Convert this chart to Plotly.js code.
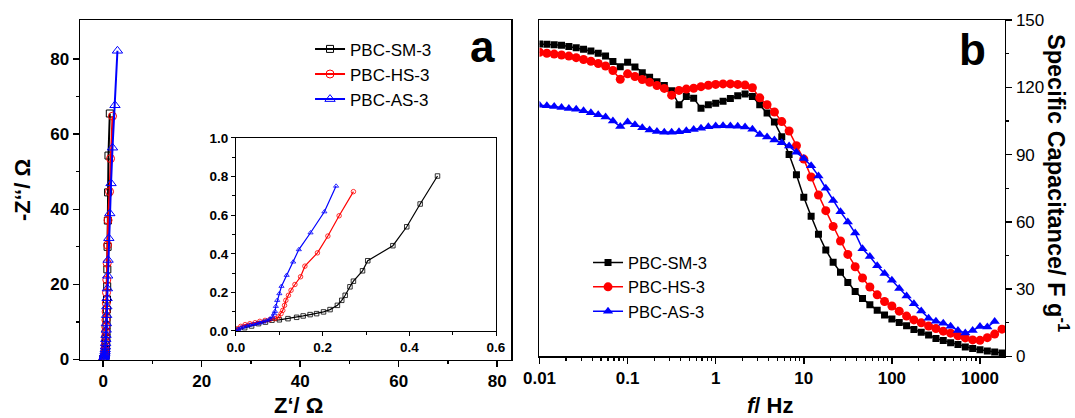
<!DOCTYPE html>
<html>
<head>
<meta charset="utf-8">
<script src="https://cdn.plot.ly/plotly-3.0.1.min.js"></script>
<style>html,body{margin:0;padding:0;background:#fff}#chart{width:1075px;height:418px}</style>
</head>
<body>
<div id="chart"></div>
<script>
// ---------- Panel a: Nyquist (inset, low-Z region) ----------
const insetSmX = [0, 0.004, 0.02, 0.036, 0.052, 0.068, 0.083, 0.1, 0.12, 0.14, 0.155, 0.171, 0.186, 0.202, 0.217, 0.234, 0.244, 0.252, 0.263, 0.271, 0.292, 0.304, 0.362, 0.394, 0.425, 0.465];
const insetSmY = [0, 0.005, 0.017, 0.026, 0.038, 0.046, 0.056, 0.058, 0.064, 0.071, 0.078, 0.085, 0.09, 0.099, 0.111, 0.133, 0.159, 0.185, 0.229, 0.258, 0.312, 0.364, 0.442, 0.54, 0.658, 0.803];
const insetHsX = [0, 0.003, 0.011, 0.021, 0.032, 0.044, 0.055, 0.067, 0.078, 0.09, 0.098, 0.104, 0.108, 0.112, 0.115, 0.121, 0.127, 0.136, 0.149, 0.159, 0.188, 0.212, 0.238, 0.271];
const insetHsY = [0, 0.012, 0.024, 0.033, 0.038, 0.043, 0.05, 0.055, 0.059, 0.064, 0.073, 0.09, 0.107, 0.133, 0.159, 0.185, 0.211, 0.241, 0.281, 0.336, 0.405, 0.492, 0.597, 0.722];
const insetAsX = [0, 0.005, 0.011, 0.017, 0.025, 0.032, 0.04, 0.048, 0.055, 0.063, 0.071, 0.078, 0.084, 0.088, 0.09, 0.092, 0.095, 0.1, 0.105, 0.117, 0.132, 0.145, 0.172, 0.204, 0.231];
const insetAsY = [0, 0.009, 0.016, 0.021, 0.026, 0.031, 0.035, 0.038, 0.042, 0.047, 0.054, 0.062, 0.073, 0.09, 0.102, 0.128, 0.159, 0.194, 0.232, 0.289, 0.358, 0.422, 0.509, 0.618, 0.751];

// ---------- Panel a: Nyquist (upper, high -Z'' part) ----------
const upperSmX = [0.5, 0.53, 0.56, 0.6, 0.62, 0.65, 0.68, 0.7, 0.72, 0.75, 0.78, 0.82, 0.85, 0.9, 0.95, 1.0, 1.08, 1.35];
const upperSmY = [1.2, 1.8, 2.5, 3.4, 4.5, 5.8, 7.3, 9.0, 11.0, 13.3, 16, 19.5, 24, 30, 37, 44.5, 54.3, 65.5];
const upperHsX = [0.3, 0.33, 0.36, 0.39, 0.42, 0.45, 0.48, 0.51, 0.54, 0.57, 0.6, 0.64, 0.68, 0.74, 0.82, 0.9, 1.0, 1.3, 1.5, 1.9];
const upperHsY = [1.0, 1.6, 2.3, 3.0, 3.9, 4.9, 6.1, 7.4, 8.7, 10.5, 12.7, 15, 17.8, 21.2, 25.6, 30.5, 37.1, 44.7, 53.5, 64.8];
const upperAsX = [0.26, 0.3, 0.34, 0.38, 0.42, 0.46, 0.5, 0.54, 0.58, 0.62, 0.66, 0.7, 0.75, 0.8, 0.86, 0.92, 1.0, 1.15, 1.35, 1.6, 1.9, 2.4, 2.9];
const upperAsY = [1.0, 1.3, 1.6, 2.1, 2.7, 3.4, 4.3, 5.4, 6.5, 7.9, 9.6, 11.8, 14.1, 16.3, 18.9, 22.3, 26.5, 32.3, 38.9, 46.9, 56.4, 67.7, 82.2];

// ---------- Panel b: specific capacitance vs frequency ----------
const freqHz = [0.01, 0.01212, 0.01468, 0.01778, 0.02154, 0.0261, 0.03162, 0.03831, 0.04642, 0.05623, 0.06813, 0.08254,
  0.1, 0.1212, 0.1468, 0.1778, 0.2154, 0.261, 0.3162, 0.3831, 0.4642, 0.5623, 0.6813, 0.8254,
  1, 1.212, 1.468, 1.778, 2.154, 2.61, 3.162, 3.831, 4.642, 5.623, 6.813, 8.254,
  10, 12.12, 14.68, 17.78, 21.54, 26.1, 31.62, 38.31, 46.42, 56.23, 68.13, 82.54,
  100, 121.2, 146.8, 177.8, 215.4, 261, 316.2, 383.1, 464.2, 562.3, 681.3, 825.4,
  1000, 1212, 1468, 1778];
const capSm = [139.3, 139.2, 139, 138.7, 138.2, 137.6, 137, 136.2, 135.2, 134, 131.5, 129.2,
  131.2, 129, 126.5, 124.5, 122.5, 120.8, 118.5, 112.2, 115.9, 115.1, 110.7, 112.2,
  112.9, 113.8, 115, 116.2, 117, 115.9, 112.2, 108.5, 104.5, 98, 90, 81,
  71, 62.5, 54.5, 47.5, 42, 37.5, 33, 29, 25.8, 23.1, 20.6, 18.5,
  16.7, 15.2, 13.7, 12, 10.8, 9.6, 8, 7.1, 6.1, 5.3, 4.2, 3.6,
  3.0, 2.5, 2.0, 1.6];
const capHs = [135.6, 135.2, 134.8, 134.4, 133.9, 133.2, 132.4, 131.6, 130.6, 129.5, 127.5, 123.6,
  126, 124.8, 123.5, 122.2, 120.8, 119.5, 116.5, 118.6, 119.2, 119.6, 120.3, 120.9,
  121.3, 121.5, 121.5, 121.3, 121, 119.8, 115.3, 112.2, 109, 104.7, 100.5, 94,
  88, 80, 72, 65, 58, 51.5, 45.5, 40, 35, 31, 27.5, 24.5,
  22.5, 20.2, 18, 16.3, 15, 13.6, 12.5, 11.3, 10.4, 9.2, 8.3, 7.4,
  7.2, 8.4, 10, 12.2];
const capAs = [112, 111.8, 111.4, 111, 110.6, 110.2, 109.5, 108.6, 107.8, 106.8, 105, 102.5,
  104.5, 103.3, 102, 101, 100.3, 100, 100, 100.2, 100.6, 101.2, 101.8, 102.4,
  102.8, 102.9, 102.8, 102.6, 102.3, 101.3, 99, 97.8, 96.5, 95.3, 93.8, 91,
  88.3, 85, 80.5, 75, 69.5, 64.5, 60, 55, 48, 44.6, 40.5, 37,
  34, 30.3, 27, 23.5, 20.3, 17.1, 15.7, 14.8, 13.5, 11.6, 10.5, 11.6,
  13.4, 13.1, 15.6];

const seriesNames = ['PBC-SM-3', 'PBC-HS-3', 'PBC-AS-3'];
const seriesColors = ['#000000', '#ff0000', '#0000ff'];
const freqTickVals = [0.01, 0.1, 1, 10, 100, 1000];
const freqTickText = ['0.01', '0.1', '1', '10', '100', '1000'];

const FONT = 'Liberation Sans, Arial, Helvetica, sans-serif';

// minor tick positions for the log axis (style only)
const logMinor = [];
for (let e = -2; e <= 3; e++) for (let d = 2; d <= 9; d++) { const v = d * Math.pow(10, e); if (v < 1923) logMinor.push(v); }

const mainX = [insetSmX.concat(upperSmX), insetHsX.concat(upperHsX), insetAsX.concat(upperAsX)];
const mainY = [insetSmY.concat(upperSmY), insetHsY.concat(upperHsY), insetAsY.concat(upperAsY)];
const insX = [insetSmX, insetHsX, insetAsX];
const insY = [insetSmY, insetHsY, insetAsY];
const capY = [capSm, capHs, capAs];
const openSym = ['square-open', 'circle-open', 'triangle-up-open'];
const openSize = [7, 8, 9];
const fillSym = ['square', 'circle', 'triangle-up'];
const fillSize = [7, 9, 9];

const traces = [];
for (let i = 0; i < 3; i++) {
  traces.push({
    type: 'scatter', mode: 'lines+markers', name: seriesNames[i],
    x: mainX[i], y: mainY[i], xaxis: 'x', yaxis: 'y', legend: 'legend',
    line: {color: seriesColors[i], width: 2},
    marker: {symbol: openSym[i], size: openSize[i], color: seriesColors[i], line: {width: 1}}
  });
}
for (let i = 0; i < 3; i++) {
  traces.push({
    type: 'scatter', mode: 'lines+markers', name: seriesNames[i], showlegend: false,
    x: insX[i], y: insY[i], xaxis: 'x3', yaxis: 'y3',
    line: {color: seriesColors[i], width: 1.2},
    marker: {symbol: openSym[i], size: 4.5, color: seriesColors[i], line: {width: 0.8}}
  });
}
for (let i = 0; i < 3; i++) {
  traces.push({
    type: 'scatter', mode: 'lines+markers', name: seriesNames[i],
    x: freqHz.slice(0, capY[i].length), y: capY[i], xaxis: 'x2', yaxis: 'y2', legend: 'legend2',
    line: {color: seriesColors[i], width: 1.5},
    marker: {symbol: fillSym[i], size: fillSize[i], color: seriesColors[i]}
  });
}

const axBase = {showgrid: false, zeroline: false, showline: true, linecolor: '#000', linewidth: 1.5, mirror: true,
  ticks: 'outside', tickcolor: '#000', tickwidth: 1.5, ticklen: 6};

const layout = {
  width: 1075, height: 418, margin: {l: 0, r: 0, t: 0, b: 0},
  paper_bgcolor: '#fff', plot_bgcolor: '#fff', showlegend: true,
  font: {family: FONT, color: '#000'},
  xaxis: Object.assign({}, axBase, {domain: [0.07442, 0.47581], range: [-4.7, 82.9], anchor: 'y',
    tickmode: 'array', tickvals: [0, 20, 40, 60, 80],
    minor: {tickmode: 'array', tickvals: [10, 30, 50, 70], ticks: 'outside', ticklen: 3, tickcolor: '#000', tickwidth: 1.2},
    tickfont: {size: 17, weight: 'bold'}}),
  yaxis: Object.assign({}, axBase, {domain: [0.13995, 0.95215], range: [0, 90.4], anchor: 'x',
    tickmode: 'array', tickvals: [0, 20, 40, 60, 80],
    minor: {tickmode: 'array', tickvals: [10, 30, 50, 70], ticks: 'outside', ticklen: 3, tickcolor: '#000', tickwidth: 1.2},
    tickfont: {size: 17, weight: 'bold'}}),
  xaxis3: Object.assign({}, axBase, {domain: [0.21953, 0.46140], range: [0, 0.6], anchor: 'y3', linewidth: 1, tickwidth: 1, ticklen: 4,
    tickmode: 'array', tickvals: [0, 0.2, 0.4, 0.6], tickformat: '.1f',
    minor: {tickmode: 'array', tickvals: [0.1, 0.3, 0.5], ticks: 'outside', ticklen: 2.5, tickcolor: '#000', tickwidth: 1},
    tickfont: {size: 13.5, weight: 'bold'}}),
  yaxis3: Object.assign({}, axBase, {domain: [0.20813, 0.66986], range: [0, 1], anchor: 'x3', linewidth: 1, tickwidth: 1, ticklen: 4,
    tickmode: 'array', tickvals: [0, 0.2, 0.4, 0.6, 0.8, 1.0], tickformat: '.1f',
    minor: {tickmode: 'array', tickvals: [0.1, 0.3, 0.5, 0.7, 0.9], ticks: 'outside', ticklen: 2.5, tickcolor: '#000', tickwidth: 1},
    tickfont: {size: 13.5, weight: 'bold'}}),
  xaxis2: Object.assign({}, axBase, {type: 'log', domain: [0.50186, 0.93488], range: [-2, 3.284], anchor: 'y2',
    tickmode: 'array', tickvals: freqTickVals, ticktext: freqTickText,
    minor: {tickmode: 'array', tickvals: logMinor, ticks: 'outside', ticklen: 3, tickcolor: '#000', tickwidth: 1.2},
    tickfont: {size: 17, weight: 'bold'}}),
  yaxis2: Object.assign({}, axBase, {domain: [0.14713, 0.95215], range: [0, 150], anchor: 'x2', side: 'right',
    tickmode: 'array', tickvals: [0, 30, 60, 90, 120, 150],
    minor: {tickmode: 'array', tickvals: [15, 45, 75, 105, 135], ticks: 'outside', ticklen: 3, tickcolor: '#000', tickwidth: 1.2},
    tickfont: {size: 17}}),
  legend: {x: 0.2884, y: 0.925, xanchor: 'left', yanchor: 'top', bgcolor: 'rgba(0,0,0,0)',
    font: {size: 17, family: FONT}, tracegroupgap: 0},
  legend2: {x: 0.547, y: 0.4135, xanchor: 'left', yanchor: 'top', bgcolor: 'rgba(0,0,0,0)',
    font: {size: 16.5, family: FONT}, tracegroupgap: 0},
  annotations: [
    {text: 'Z‘/ Ω', xref: 'paper', yref: 'paper', x: 298 / 1075, y: (418 - 405) / 418, xanchor: 'center', yanchor: 'middle', showarrow: false, font: {size: 22, weight: 'bold'}},
    {text: '-Z‘‘/ Ω', xref: 'paper', yref: 'paper', x: 22 / 1075, y: (418 - 190) / 418, xanchor: 'center', yanchor: 'middle', textangle: -90, showarrow: false, font: {size: 22, weight: 'bold'}},
    {text: '<i>f</i>/ Hz', xref: 'paper', yref: 'paper', x: 770 / 1075, y: (418 - 405) / 418, xanchor: 'center', yanchor: 'middle', showarrow: false, font: {size: 22, weight: 'bold'}},
    {text: 'Specific Capacitance/ F g<sup>-1</sup>', xref: 'paper', yref: 'paper', x: 1058 / 1075, y: (418 - 183) / 418, xanchor: 'center', yanchor: 'middle', textangle: 90, showarrow: false, font: {size: 23.5, weight: 'bold'}},
    {text: 'a', xref: 'paper', yref: 'paper', x: 482 / 1075, y: (418 - 47) / 418, xanchor: 'center', yanchor: 'middle', showarrow: false, font: {size: 44, weight: 'bold'}},
    {text: 'b', xref: 'paper', yref: 'paper', x: 972 / 1075, y: (418 - 50) / 418, xanchor: 'center', yanchor: 'middle', showarrow: false, font: {size: 44, weight: 'bold'}}
  ]
};

Plotly.newPlot('chart', traces, layout, {staticPlot: true, displayModeBar: false});
</script>
</body>
</html>
